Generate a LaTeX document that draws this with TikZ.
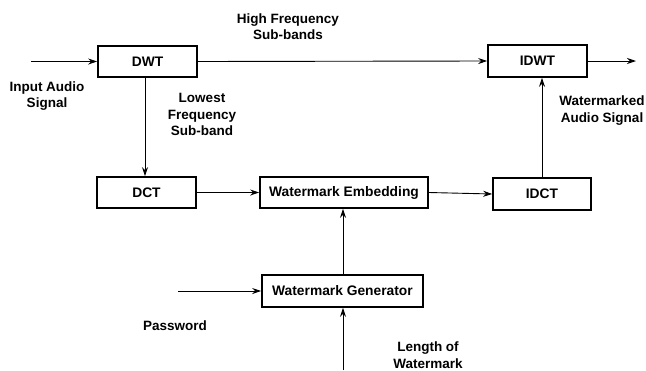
\documentclass[tikz,border=0pt]{standalone}
\usepackage{fontspec}
\setmainfont{Liberation Sans}
\usetikzlibrary{arrows.meta}
\begin{document}
\begin{tikzpicture}[x=1pt,y=-1pt,
  blk/.style={draw, line width=1.6pt, inner sep=0pt, font=\bfseries\fontsize{13.8}{16}\selectfont},
  lbl/.style={align=center, inner sep=0pt, font=\bfseries\fontsize{13.5}{16.5}\selectfont},
  arr/.style={-{Stealth[length=9pt,width=6pt]}, line width=0.9pt}]
\useasboundingbox (0,0) rectangle (646,370);
\node[blk, minimum width=99pt, minimum height=31pt] (dwt) at (147.5,61.5) {DWT};
\node[blk, minimum width=99pt, minimum height=31pt] (dct) at (146.5,192.5) {DCT};
\node[blk, minimum width=168pt, minimum height=31pt] (we) at (344,192.5) {Watermark Embedding};
\node[blk, minimum width=98pt, minimum height=32pt] (idct) at (542,194) {IDCT};
\node[blk, minimum width=99pt, minimum height=32pt] (idwt) at (537.5,61) {IDWT};
\node[blk, minimum width=161pt, minimum height=32pt] (wg) at (342.5,291) {Watermark Generator};
\coordinate (in) at (31,61.5);
\coordinate (out) at (636,61);
\coordinate (pw) at (178,291);
\coordinate (len) at (343,370);
\draw[arr] (in) -- (dwt.west);
\draw[arr] (dwt.east) -- (idwt.west);
\draw[arr] (idwt.east) -- (out);
\draw[arr] (dwt.south -| 145,0) -- (dct.north -| 145,0);
\draw[arr] (dct.east) -- (we.west);
\draw[arr] (we.east) -- (idct.west);
\draw[arr] (idct.north) -- (idct.north |- idwt.south);
\draw[arr] (pw) -- (wg.west);
\draw[arr] (len) -- (wg.south -| len);
\draw[arr] (wg.north -| len) -- (we.south -| len);
\node[lbl] (hf) at (288,26.5) {High Frequency\\Sub-bands};
\node[lbl] (ia) at (47,96) {Input Audio\\Signal};
\node[lbl] (lf) at (202,114.5) {Lowest\\Frequency\\Sub-band};
\node[lbl] (wa) at (602,110.5) {Watermarked\\Audio Signal};
\node[lbl] (pwl) at (175,326) {Password};
\node[lbl] (lw) at (428,355) {Length of\\Watermark};
\end{tikzpicture}
\end{document}
